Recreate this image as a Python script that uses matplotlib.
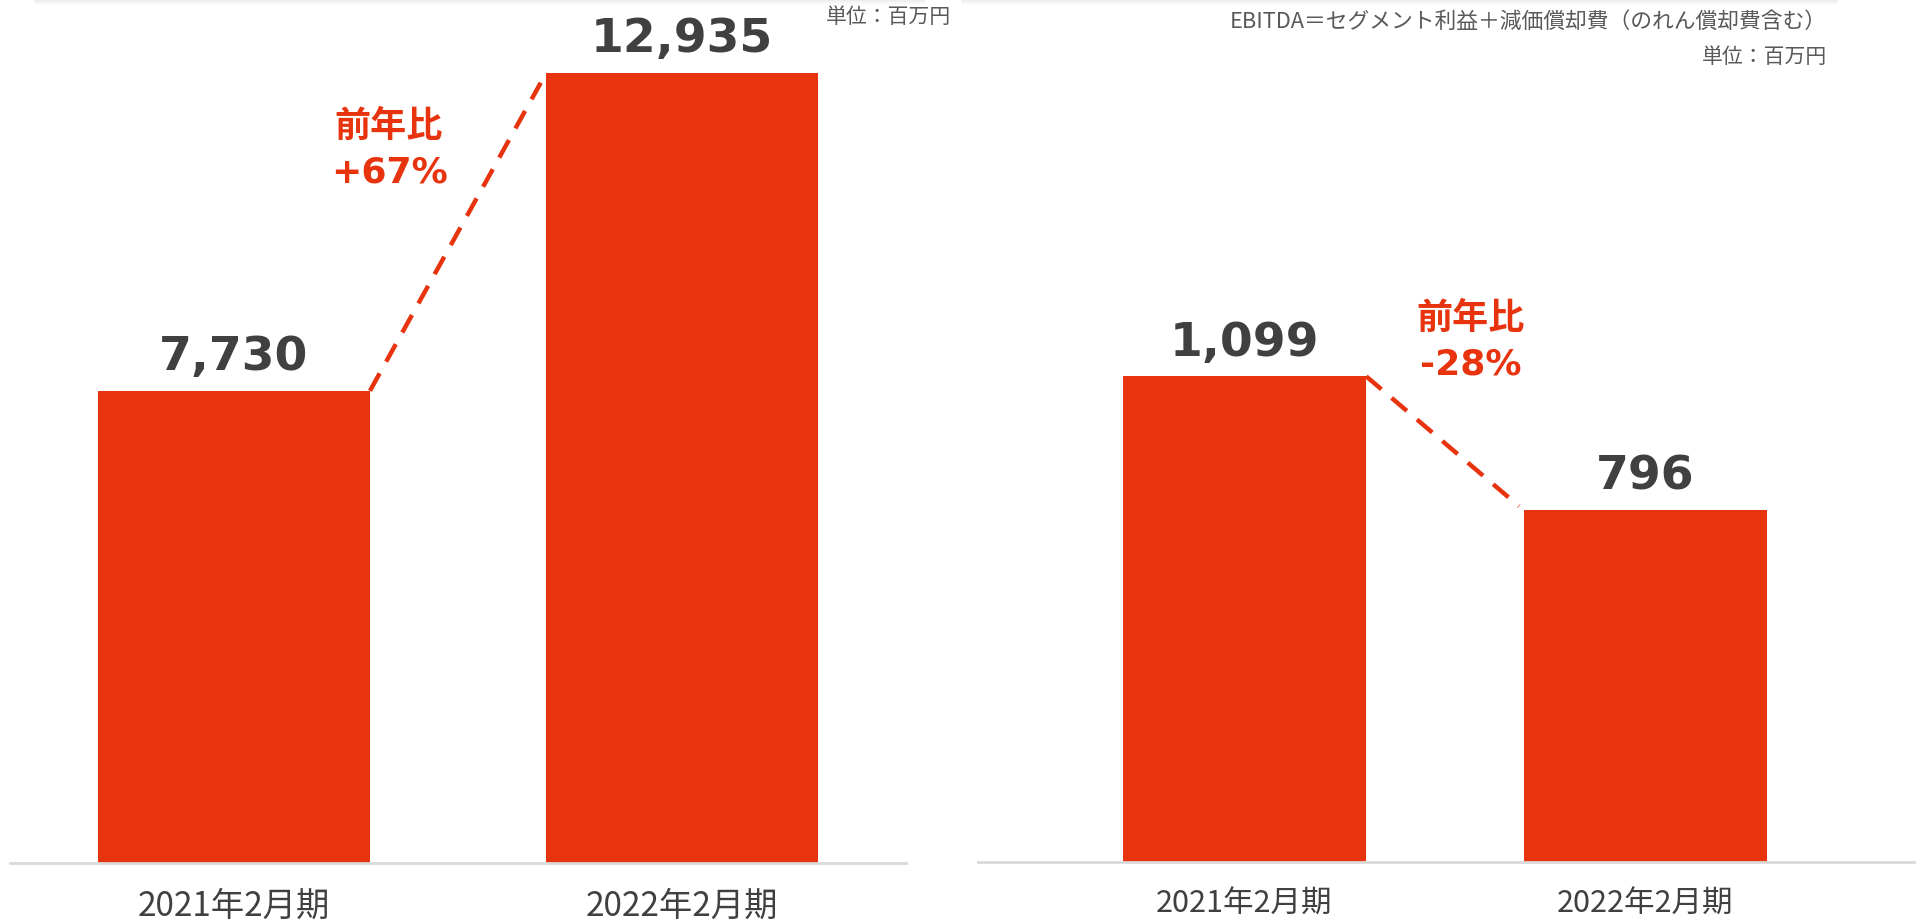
import matplotlib
matplotlib.use("Agg")
import matplotlib.pyplot as plt
from matplotlib.patches import Rectangle


# data
PERIODS = ["2021年2月期", "2022年2月期"]
LEFT_VALUES = [7730, 12935]
RIGHT_VALUES = [1099, 796]
UNIT_LABEL = "単位：百万円"
EBITDA_NOTE = "EBITDA＝セグメント利益＋減価償却費（のれん償却費含む）"

BAR = "#E8340E"
TEXT = "#404040"
NOTE = "#595959"
AXIS = "#D9D9D9"

W, H = 1916, 921
JP = ["Noto Sans CJK JP", "DejaVu Sans"]
NUM = ["DejaVu Sans", "Noto Sans CJK JP"]


def px_axes(fig, x0, x1, base, top=0):
    # pixel box (from top-left) -> figure fraction
    return fig.add_axes([x0 / W, (H - base) / H, (x1 - x0) / W, (base - top) / H])


def draw_panel(ax, values, xlim, ymax, tick_size, yoy_pos):
    x = list(range(len(values)))
    width = 0.607
    ax.bar(x, values, width=width, color=BAR, zorder=2)
    ax.set_xlim(*xlim)
    ax.set_ylim(0, ymax)

    for s in ("top", "left", "right"):
        ax.spines[s].set_visible(False)
    ax.spines["bottom"].set_color(AXIS)
    ax.spines["bottom"].set_linewidth(2.0)
    ax.set_yticks([])
    ax.set_xticks(x)
    ax.set_xticklabels(PERIODS, fontsize=tick_size, color=TEXT, family=JP)
    ax.tick_params(axis="x", length=0, pad=19)

    for xi, v in zip(x, values):
        ax.annotate(
            f"{v:,}",
            (xi, v),
            xytext=(0, 15),
            textcoords="offset points",
            ha="center",
            va="baseline",
            fontsize=34,
            fontweight="bold",
            color=TEXT,
            family=NUM,
        )

    # dashed connector from top-right of bar 1 to top-left of bar 2
    x0, y0 = x[0] + width / 2, values[0]
    x1, y1 = x[1] - width / 2, values[1]
    f = 0.97
    ax.plot(
        [x0, x0 + f * (x1 - x0)],
        [y0, y0 + f * (y1 - y0)],
        color=BAR,
        linewidth=3.2,
        linestyle=(0, (4.5, 3.0)),
        clip_on=False,
        zorder=3,
    )

    pct = round((values[1] / values[0] - 1) * 100)
    sign = "+" if pct > 0 else "-"
    ax.text(yoy_pos[0], yoy_pos[1], "前年比", transform=ax.transAxes,
            ha="center", va="center", fontsize=26, fontweight="bold",
            color=BAR, family=NUM)
    ax.text(yoy_pos[0], yoy_pos[2], f"{sign}{abs(pct)}%", transform=ax.transAxes,
            ha="center", va="center", fontsize=26, fontweight="bold",
            color=BAR, family=NUM)


def main():
    fig = plt.figure(figsize=(W / 100, H / 100), dpi=100)
    fig.patch.set_facecolor("white")

    # faint card shadow at the top edge
    for x0, x1 in ((34, 925), (961, 1838)):
        for i, a in enumerate((0.07, 0.05, 0.035, 0.02, 0.01)):
            fig.add_artist(Rectangle(((x0) / W, (H - i - 1) / H), (x1 - x0) / W, 1 / H,
                                     transform=fig.transFigure, facecolor="black",
                                     edgecolor="none", alpha=a))

    ax_l = px_axes(fig, 10, 906, 862.5)
    draw_panel(ax_l, LEFT_VALUES, (-0.5, 1.5), 862.5 / 0.06102, 24,
               (0.423, 0.853, 0.800))

    ax_r = px_axes(fig, 978, 1916, 862)
    draw_panel(ax_r, RIGHT_VALUES, (-0.6646, 1.6746), 862 / 0.4419, 22,
               (0.5256, 0.630, 0.5766))

    fig.text(826 / W, 1 - 17 / H, UNIT_LABEL, ha="left", va="center",
             fontsize=15, color=NOTE, family=JP)
    fig.text(1827 / W, 1 - 22 / H, EBITDA_NOTE, ha="right", va="center",
             fontsize=15.7, color=NOTE, family=JP)
    fig.text(1827 / W, 1 - 57 / H, UNIT_LABEL, ha="right", va="center",
             fontsize=15, color=NOTE, family=JP)

    fig.savefig("out.png", dpi=100)
    plt.close(fig)


if __name__ == "__main__":
    main()
